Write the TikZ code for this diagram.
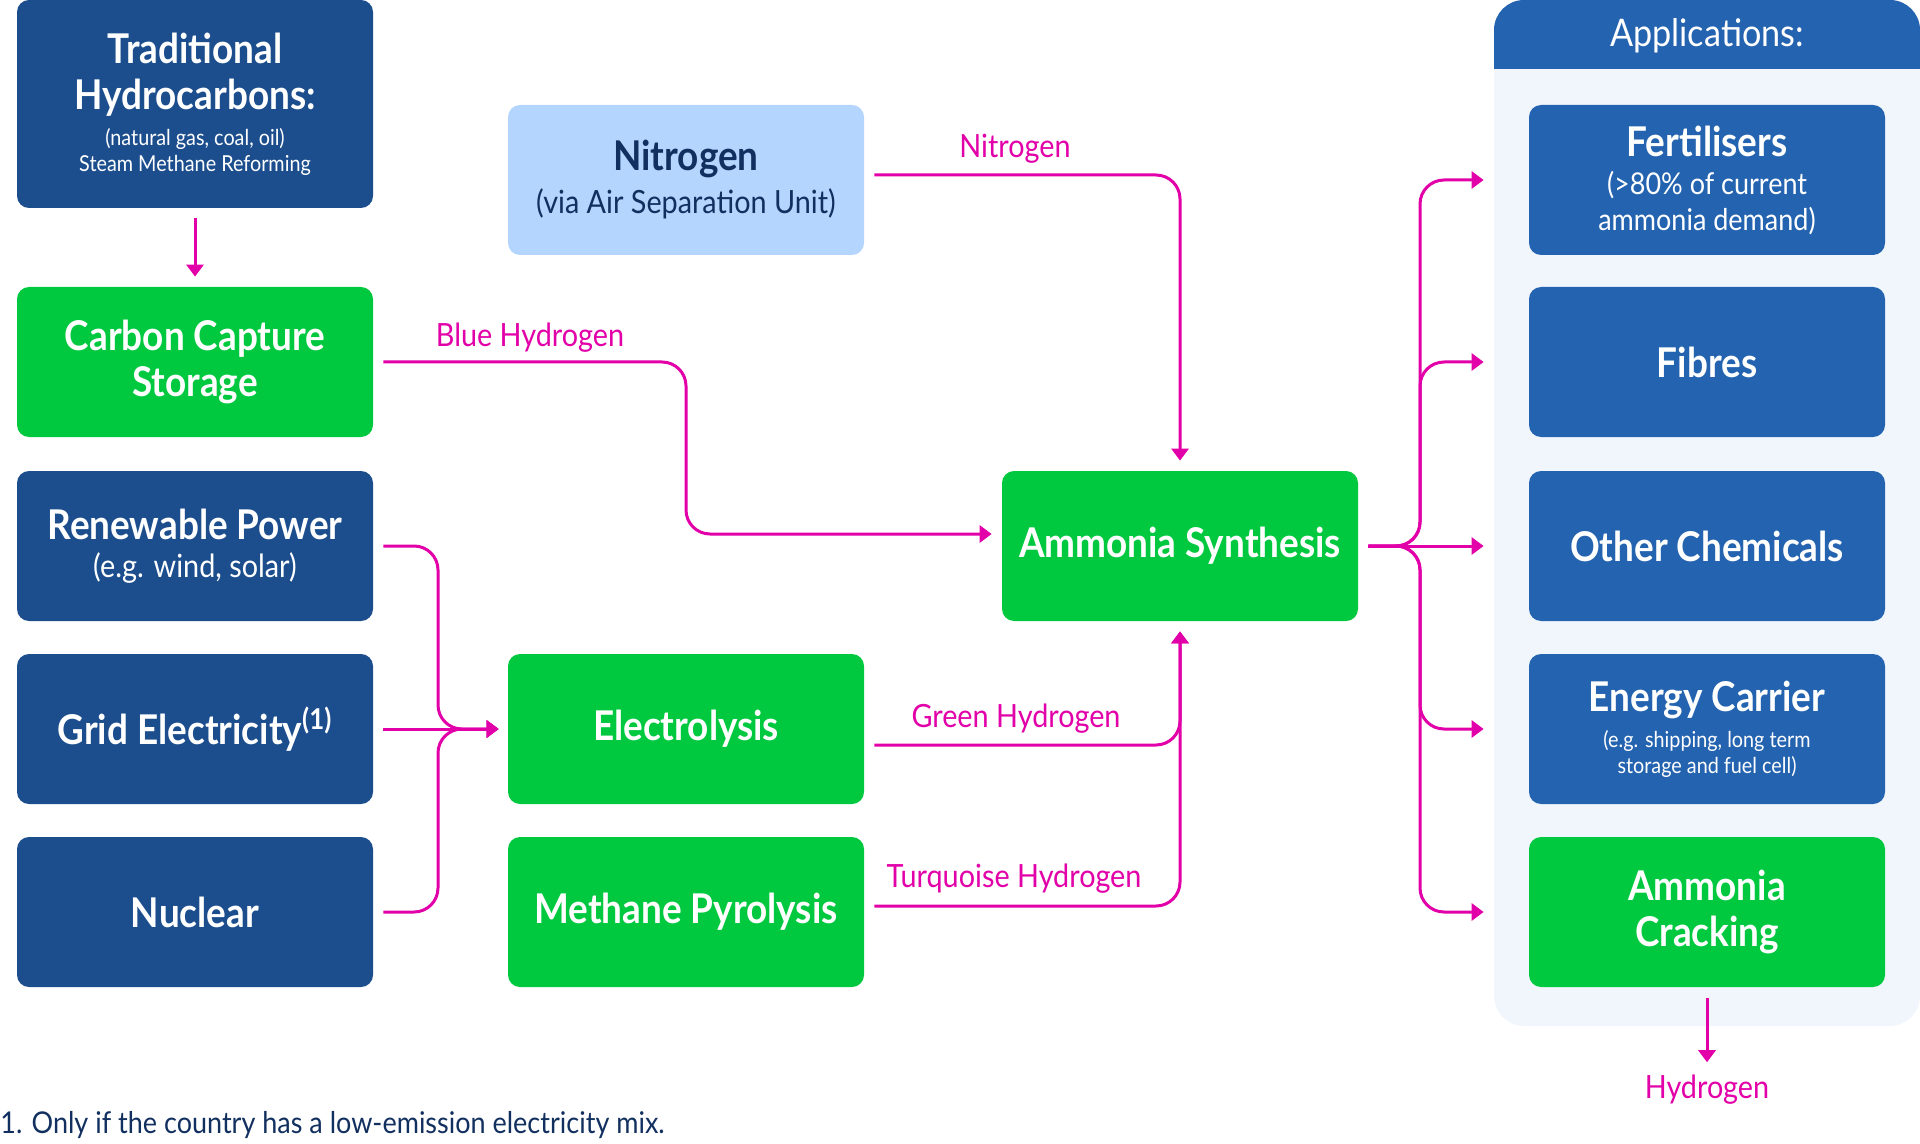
\documentclass[tikz,border=0pt]{standalone}
\usepackage{fontspec}
\setmainfont{Lato}[FakeStretch=0.9]
\usetikzlibrary{arrows.meta}
\usetikzlibrary{positioning}

\definecolor{darkblue}{HTML}{1C4E8E}
\definecolor{appblue}{HTML}{2463B0}
\definecolor{brightgreen}{HTML}{00C83F}
\definecolor{lightblue}{HTML}{B4D5FE}
\definecolor{navytext}{HTML}{12305F}
\definecolor{flowpink}{HTML}{E200A8}
\definecolor{panelbg}{HTML}{F1F6FD}

\newcommand{\subtxt}[1]{{\normalfont\fontsize{16}{19}\selectfont #1}}
\newcommand{\midtxt}[1]{{\normalfont\fontsize{15}{18}\selectfont #1}}
\newcommand{\tinytxt}[1]{{\normalfont\fontsize{11}{13}\selectfont #1}}

\begin{document}
\begin{tikzpicture}
  [x=0.5pt, y=-0.5pt,
   box/.style={rounded corners=6pt, minimum width=178pt, minimum height=75pt,
     align=center, text=white, inner sep=0pt,
     font=\bfseries\fontsize{20.5}{23}\selectfont},
   dbox/.style={box, fill=darkblue},
   abox/.style={box, fill=appblue},
   gbox/.style={box, fill=brightgreen},
   nbox/.style={box, fill=lightblue, text=navytext},
   flow/.style={draw=flowpink, line width=1.5pt, rounded corners=12pt,
     -{Triangle[length=6pt,width=8.5pt]}},
   flowlbl/.style={text=flowpink, font=\fontsize{16}{18}\selectfont},
  ]
  \useasboundingbox (0,0) rectangle (1920,1144);

  \fill[panelbg, rounded corners=15pt] (1494,0) rectangle (1920,1026);
  \fill[appblue, rounded corners=15pt] (1494,0) rectangle (1920,100);
  \fill[panelbg] (1494,69) rectangle (1920,110);
  \node[text=white, font=\fontsize{19}{22}\selectfont] (apps) at (1707,36) {Applications:};

  \node[dbox, minimum height=104pt] (trad) at (195,104)
    {Traditional\\Hydrocarbons:\\[-5pt]\tinytxt{(natural gas, coal, oil)}\\[-10pt]\tinytxt{Steam Methane Reforming}};
  \node[gbox] (ccs) at (195,362) {Carbon Capture\\Storage};
  \node[dbox] (ren) at (195,546) {Renewable Power\\[-4pt]\subtxt{(e.g. wind, solar)}};
  \node[dbox] (grid) at (195,729) {Grid Electricity\textsuperscript{(1)}};
  \node[dbox] (nuc) at (195,912) {Nuclear};

  \node[nbox] (nitro) at (686,180) {Nitrogen\\[-1.5pt]\subtxt{(via Air Separation Unit)}};
  \node[gbox] (elec) at (686,729) {Electrolysis};
  \node[gbox] (pyro) at (686,912) {Methane Pyrolysis};

  \node[gbox] (synth) at (1180,546) {Ammonia Synthesis};

  \node[abox] (fert) at (1707,180) {Fertilisers\\[-4pt]\midtxt{(>80\% of current}\\[-5pt]\midtxt{ammonia demand)}};
  \node[abox] (fibre) at (1707,362) {Fibres};
  \node[abox] (chem) at (1707,546) {Other Chemicals};
  \node[abox] (energy) at (1707,729) {Energy Carrier\\[-5pt]\tinytxt{(e.g. shipping, long term}\\[-10pt]\tinytxt{storage and fuel cell)}};
  \node[gbox] (crack) at (1707,912) {Ammonia\\Cracking};

  \node[flowlbl] (h2) at (1707,1090) {Hydrogen};
  \node[text=navytext, font=\fontsize{15}{18}\selectfont, anchor=west, inner sep=0pt] (note) at (0,1125)
    {1. Only if the country has a low-emission electricity mix.};

  \node[flowlbl] (nitrolbl) at (1015,149) {Nitrogen};
  \node[flowlbl] (bluelbl) at (530,338) {Blue Hydrogen};
  \node[flowlbl] (greenlbl) at (1016,719) {Green Hydrogen};
  \node[flowlbl] (turqlbl) at (1014,879) {Turquoise Hydrogen};

  \draw[flow, shorten <=5pt, shorten >=5pt] (trad) -- (ccs);
  \draw[flow] ([xshift=5pt,yshift=2.5pt]nitro.east) -| ([yshift=5pt]synth.north);
  \draw[flow] ([xshift=5pt]ccs.east) -| (686,450) |- ([xshift=-5pt,yshift=6pt]synth.west);

  \draw[flow] ([xshift=5pt]ren.east) -| (438,640) |- ([xshift=-4.5pt]elec.west);
  \draw[flow] ([xshift=5pt]grid.east) -- ([xshift=-4.5pt]elec.west);
  \draw[flow] ([xshift=5pt]nuc.east) -| (438,820) |- ([xshift=-4.5pt]elec.west);

  \draw[flow] ([xshift=5pt,yshift=-8pt]elec.east) -| ([yshift=-5pt]synth.south);
  \draw[flow] ([xshift=5pt,yshift=3pt]pyro.east) -| ([yshift=-5pt]synth.south);

  \draw[flow] ([xshift=5pt]synth.east) -| (1420,400) |- ([xshift=-22.5pt]fert.west);
  \draw[flow] ([xshift=5pt]synth.east) -| (1420,450) |- ([xshift=-22.5pt]fibre.west);
  \draw[flow] ([xshift=5pt]synth.east) -- ([xshift=-22.5pt]chem.west);
  \draw[flow] ([xshift=5pt]synth.east) -| (1420,640) |- ([xshift=-22.5pt]energy.west);
  \draw[flow] ([xshift=5pt]synth.east) -| (1420,700) |- ([xshift=-22.5pt]crack.west);

  \draw[flow, shorten <=5.5pt, shorten >=3pt] (crack.south) -- (h2.north);
\end{tikzpicture}
\end{document}
